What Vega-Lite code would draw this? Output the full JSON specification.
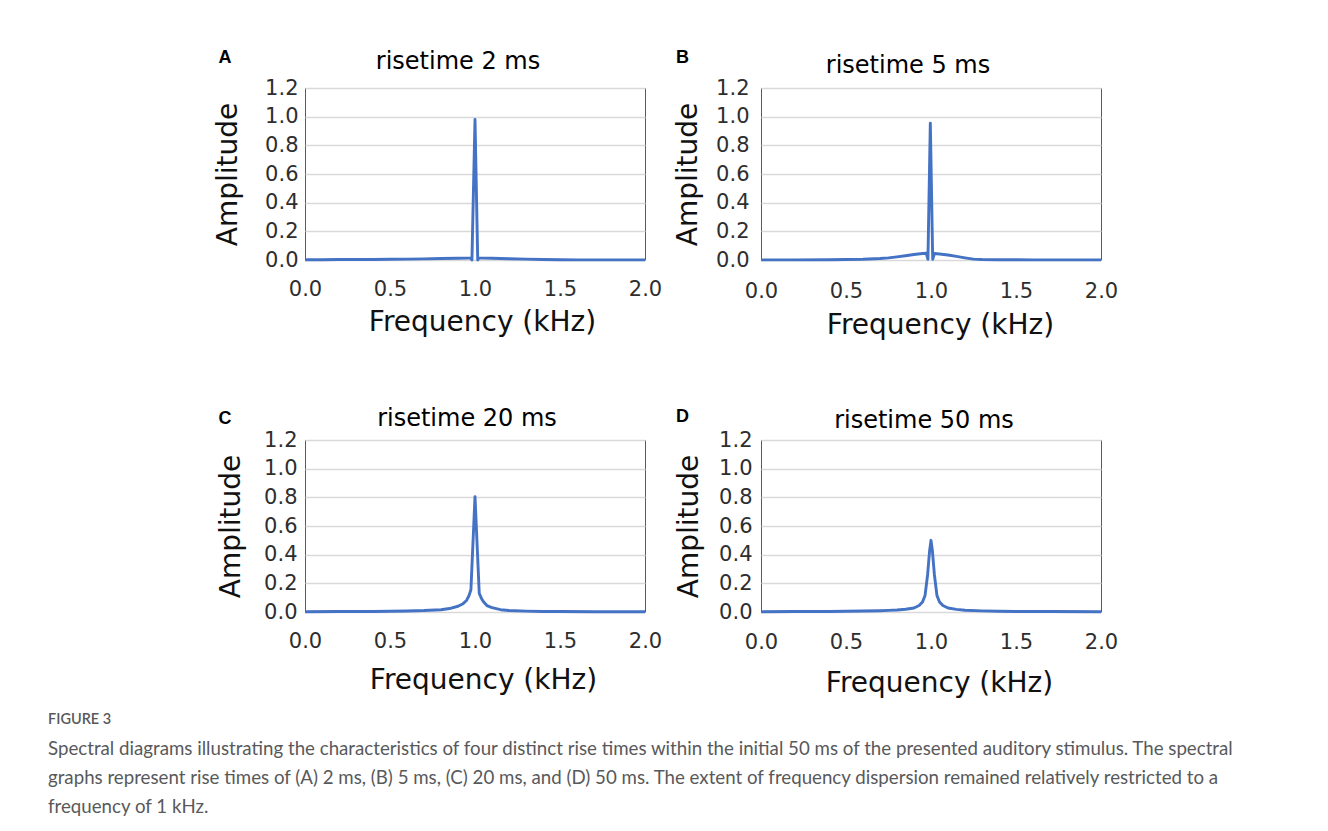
{
  "$schema": "https://vega.github.io/schema/vega-lite/v6.json",
  "autosize": "none",
  "padding": {"left": 305, "top": 88, "right": 1023, "bottom": 743},
  "background": "white",
  "config": {
    "view": {"stroke": "#595959", "strokeWidth": 1},
    "axis": {
      "labelFont": "DejaVu Sans", "labelFontSize": 21, "labelColor": "#2e2e2e", "labelOverlap": false,
      "titleFont": "DejaVu Sans", "titleFontSize": 28, "titleFontWeight": "normal", "titleColor": "#111111",
      "ticks": false, "domain": false
    },
    "axisX": {"grid": false, "labelFlush": false},
    "axisY": {"grid": true, "gridColor": "#d9d9d9", "gridWidth": 1.5}
  },
  "title": {
    "text": "FIGURE 3",
    "subtitle": [
      "Spectral diagrams illustrating the characteristics of four distinct rise times within the initial 50 ms of the presented auditory stimulus. The spectral",
      "graphs represent rise times of (A) 2 ms, (B) 5 ms, (C) 20 ms, and (D) 50 ms. The extent of frequency dispersion remained relatively restricted to a",
      "frequency of 1 kHz."
    ],
    "orient": "bottom", "anchor": "start", "frame": "group", "dx": -257, "offset": 15,
    "font": "Lato", "fontSize": 14.5, "fontWeight": 600, "color": "#58595b",
    "subtitleFont": "Lato", "subtitleFontSize": 18.7, "subtitleColor": "#58595b",
    "subtitleLineHeight": 29, "subtitlePadding": 13
  },
  "data": {"values": [
    {"panel": "A", "freq": 0.0, "amp": 0.002}, {"panel": "A", "freq": 0.1, "amp": 0.002}, {"panel": "A", "freq": 0.2, "amp": 0.003},
    {"panel": "A", "freq": 0.3, "amp": 0.003}, {"panel": "A", "freq": 0.4, "amp": 0.004}, {"panel": "A", "freq": 0.5, "amp": 0.005},
    {"panel": "A", "freq": 0.6, "amp": 0.006}, {"panel": "A", "freq": 0.7, "amp": 0.008}, {"panel": "A", "freq": 0.8, "amp": 0.010},
    {"panel": "A", "freq": 0.9, "amp": 0.012}, {"panel": "A", "freq": 0.96, "amp": 0.013}, {"panel": "A", "freq": 0.975, "amp": 0.013},
    {"panel": "A", "freq": 0.982, "amp": 0.0}, {"panel": "A", "freq": 1.0, "amp": 0.98}, {"panel": "A", "freq": 1.016, "amp": 0.0},
    {"panel": "A", "freq": 1.022, "amp": 0.014}, {"panel": "A", "freq": 1.05, "amp": 0.013}, {"panel": "A", "freq": 1.1, "amp": 0.012},
    {"panel": "A", "freq": 1.2, "amp": 0.009}, {"panel": "A", "freq": 1.3, "amp": 0.006}, {"panel": "A", "freq": 1.4, "amp": 0.004},
    {"panel": "A", "freq": 1.5, "amp": 0.002}, {"panel": "A", "freq": 1.6, "amp": 0.001}, {"panel": "A", "freq": 1.8, "amp": 0.001},
    {"panel": "A", "freq": 2.0, "amp": 0.001},

    {"panel": "B", "freq": 0.0, "amp": 0.001}, {"panel": "B", "freq": 0.2, "amp": 0.001}, {"panel": "B", "freq": 0.4, "amp": 0.002},
    {"panel": "B", "freq": 0.5, "amp": 0.003}, {"panel": "B", "freq": 0.6, "amp": 0.005}, {"panel": "B", "freq": 0.7, "amp": 0.010},
    {"panel": "B", "freq": 0.75, "amp": 0.015}, {"panel": "B", "freq": 0.8, "amp": 0.022}, {"panel": "B", "freq": 0.85, "amp": 0.030},
    {"panel": "B", "freq": 0.9, "amp": 0.038}, {"panel": "B", "freq": 0.95, "amp": 0.045}, {"panel": "B", "freq": 0.972, "amp": 0.047},
    {"panel": "B", "freq": 0.982, "amp": 0.005}, {"panel": "B", "freq": 0.996, "amp": 0.955}, {"panel": "B", "freq": 1.01, "amp": 0.005},
    {"panel": "B", "freq": 1.02, "amp": 0.045}, {"panel": "B", "freq": 1.05, "amp": 0.042}, {"panel": "B", "freq": 1.1, "amp": 0.035},
    {"panel": "B", "freq": 1.15, "amp": 0.025}, {"panel": "B", "freq": 1.2, "amp": 0.015}, {"panel": "B", "freq": 1.25, "amp": 0.006},
    {"panel": "B", "freq": 1.3, "amp": 0.003}, {"panel": "B", "freq": 1.4, "amp": 0.002}, {"panel": "B", "freq": 1.6, "amp": 0.001},
    {"panel": "B", "freq": 2.0, "amp": 0.001},

    {"panel": "C", "freq": 0.0, "amp": 0.002}, {"panel": "C", "freq": 0.2, "amp": 0.003}, {"panel": "C", "freq": 0.4, "amp": 0.004},
    {"panel": "C", "freq": 0.5, "amp": 0.005}, {"panel": "C", "freq": 0.6, "amp": 0.007}, {"panel": "C", "freq": 0.7, "amp": 0.010},
    {"panel": "C", "freq": 0.8, "amp": 0.016}, {"panel": "C", "freq": 0.85, "amp": 0.024}, {"panel": "C", "freq": 0.9, "amp": 0.040},
    {"panel": "C", "freq": 0.93, "amp": 0.058}, {"panel": "C", "freq": 0.95, "amp": 0.08}, {"panel": "C", "freq": 0.965, "amp": 0.115},
    {"panel": "C", "freq": 0.976, "amp": 0.155}, {"panel": "C", "freq": 1.0, "amp": 0.805}, {"panel": "C", "freq": 1.025, "amp": 0.13},
    {"panel": "C", "freq": 1.04, "amp": 0.09}, {"panel": "C", "freq": 1.05, "amp": 0.072}, {"panel": "C", "freq": 1.07, "amp": 0.045},
    {"panel": "C", "freq": 1.1, "amp": 0.030}, {"panel": "C", "freq": 1.15, "amp": 0.016}, {"panel": "C", "freq": 1.2, "amp": 0.010},
    {"panel": "C", "freq": 1.3, "amp": 0.006}, {"panel": "C", "freq": 1.4, "amp": 0.004}, {"panel": "C", "freq": 1.5, "amp": 0.003},
    {"panel": "C", "freq": 1.7, "amp": 0.002}, {"panel": "C", "freq": 2.0, "amp": 0.002},

    {"panel": "D", "freq": 0.0, "amp": 0.002}, {"panel": "D", "freq": 0.2, "amp": 0.003}, {"panel": "D", "freq": 0.4, "amp": 0.004},
    {"panel": "D", "freq": 0.5, "amp": 0.005}, {"panel": "D", "freq": 0.6, "amp": 0.007}, {"panel": "D", "freq": 0.7, "amp": 0.009},
    {"panel": "D", "freq": 0.75, "amp": 0.011}, {"panel": "D", "freq": 0.8, "amp": 0.014}, {"panel": "D", "freq": 0.85, "amp": 0.019},
    {"panel": "D", "freq": 0.9, "amp": 0.028}, {"panel": "D", "freq": 0.93, "amp": 0.045}, {"panel": "D", "freq": 0.95, "amp": 0.07},
    {"panel": "D", "freq": 0.965, "amp": 0.115}, {"panel": "D", "freq": 0.98, "amp": 0.26}, {"panel": "D", "freq": 0.992, "amp": 0.43},
    {"panel": "D", "freq": 1.0, "amp": 0.5}, {"panel": "D", "freq": 1.008, "amp": 0.43}, {"panel": "D", "freq": 1.02, "amp": 0.26},
    {"panel": "D", "freq": 1.035, "amp": 0.115}, {"panel": "D", "freq": 1.05, "amp": 0.07}, {"panel": "D", "freq": 1.07, "amp": 0.045},
    {"panel": "D", "freq": 1.1, "amp": 0.028}, {"panel": "D", "freq": 1.15, "amp": 0.018}, {"panel": "D", "freq": 1.2, "amp": 0.012},
    {"panel": "D", "freq": 1.3, "amp": 0.008}, {"panel": "D", "freq": 1.4, "amp": 0.005}, {"panel": "D", "freq": 1.5, "amp": 0.004},
    {"panel": "D", "freq": 1.7, "amp": 0.003}, {"panel": "D", "freq": 2.0, "amp": 0.002}
  ]},
  "columns": 2,
  "spacing": {"row": 180, "column": 116},
  "bounds": "flush",
  "concat": [
    {
      "width": 340, "height": 172,
      "title": {"text": "risetime 2 ms", "font": "DejaVu Sans", "fontSize": 24, "fontWeight": "normal", "color": "#000000", "frame": "group", "baseline": "alphabetic", "offset": -44, "dx": -17},
      "layer": [
        {
          "transform": [{"filter": "datum.panel === 'A'"}],
          "mark": {"type": "line", "color": "#4472C4", "strokeWidth": 2.9, "strokeJoin": "round"},
          "encoding": {
            "x": {"field": "freq", "type": "quantitative", "scale": {"domain": [0, 2], "nice": false},
                  "axis": {"values": [0, 0.5, 1, 1.5, 2], "format": ".1f", "title": "Frequency (kHz)", "labelPadding": 18, "titlePadding": 9, "titleX": 177}},
            "y": {"field": "amp", "type": "quantitative", "scale": {"domain": [0, 1.2], "nice": false},
                  "axis": {"values": [0, 0.2, 0.4, 0.6, 0.8, 1, 1.2], "format": ".1f", "title": "Amplitude", "labelPadding": 7, "titlePadding": 22, "labelOverlap": false}}
          }
        },
        {
          "data": {"values": [{"letter": "A"}]},
          "mark": {"type": "text", "font": "Liberation Sans", "fontWeight": "bold", "fontSize": 18, "align": "center", "baseline": "middle", "color": "#000000"},
          "encoding": {
            "x": {"datum": -0.47, "type": "quantitative", "scale": {"domain": [0, 2], "nice": false},
                  "axis": {"values": [0, 0.5, 1, 1.5, 2], "format": ".1f", "title": "Frequency (kHz)", "labelPadding": 18, "titlePadding": 9, "titleX": 177}},
            "y": {"datum": 1.41, "type": "quantitative", "scale": {"domain": [0, 1.2], "nice": false},
                  "axis": {"values": [0, 0.2, 0.4, 0.6, 0.8, 1, 1.2], "format": ".1f", "title": "Amplitude", "labelPadding": 7, "titlePadding": 22, "labelOverlap": false}},
            "text": {"field": "letter"}
          }
        }
      ]
    },
    {
      "width": 340, "height": 172,
      "title": {"text": "risetime 5 ms", "font": "DejaVu Sans", "fontSize": 24, "fontWeight": "normal", "color": "#000000", "frame": "group", "baseline": "alphabetic", "offset": -48, "dx": -23},
      "layer": [
        {
          "transform": [{"filter": "datum.panel === 'B'"}],
          "mark": {"type": "line", "color": "#4472C4", "strokeWidth": 2.9, "strokeJoin": "round"},
          "encoding": {
            "x": {"field": "freq", "type": "quantitative", "scale": {"domain": [0, 2], "nice": false},
                  "axis": {"values": [0, 0.5, 1, 1.5, 2], "format": ".1f", "title": "Frequency (kHz)", "labelPadding": 20, "titlePadding": 10, "titleX": 179}},
            "y": {"field": "amp", "type": "quantitative", "scale": {"domain": [0, 1.2], "nice": false},
                  "axis": {"values": [0, 0.2, 0.4, 0.6, 0.8, 1, 1.2], "format": ".1f", "title": "Amplitude", "labelPadding": 12, "titlePadding": 13, "labelOverlap": false}}
          }
        },
        {
          "data": {"values": [{"letter": "B"}]},
          "mark": {"type": "text", "font": "Liberation Sans", "fontWeight": "bold", "fontSize": 18, "align": "center", "baseline": "middle", "color": "#000000"},
          "encoding": {
            "x": {"datum": -0.462, "type": "quantitative", "scale": {"domain": [0, 2], "nice": false},
                  "axis": {"values": [0, 0.5, 1, 1.5, 2], "format": ".1f", "title": "Frequency (kHz)", "labelPadding": 20, "titlePadding": 10, "titleX": 179}},
            "y": {"datum": 1.41, "type": "quantitative", "scale": {"domain": [0, 1.2], "nice": false},
                  "axis": {"values": [0, 0.2, 0.4, 0.6, 0.8, 1, 1.2], "format": ".1f", "title": "Amplitude", "labelPadding": 12, "titlePadding": 13, "labelOverlap": false}},
            "text": {"field": "letter"}
          }
        }
      ]
    },
    {
      "width": 340, "height": 172,
      "title": {"text": "risetime 20 ms", "font": "DejaVu Sans", "fontSize": 24, "fontWeight": "normal", "color": "#000000", "frame": "group", "baseline": "alphabetic", "offset": -40, "dx": -8},
      "layer": [
        {
          "transform": [{"filter": "datum.panel === 'C'"}],
          "mark": {"type": "line", "color": "#4472C4", "strokeWidth": 2.9, "strokeJoin": "round"},
          "encoding": {
            "x": {"field": "freq", "type": "quantitative", "scale": {"domain": [0, 2], "nice": false},
                  "axis": {"values": [0, 0.5, 1, 1.5, 2], "format": ".1f", "title": "Frequency (kHz)", "labelPadding": 18, "titlePadding": 15, "titleX": 178}},
            "y": {"field": "amp", "type": "quantitative", "scale": {"domain": [0, 1.2], "nice": false},
                  "axis": {"values": [0, 0.2, 0.4, 0.6, 0.8, 1, 1.2], "format": ".1f", "title": "Amplitude", "labelPadding": 8, "titlePadding": 18, "labelOverlap": false}}
          }
        },
        {
          "data": {"values": [{"letter": "C"}]},
          "mark": {"type": "text", "font": "Liberation Sans", "fontWeight": "bold", "fontSize": 18, "align": "center", "baseline": "middle", "color": "#000000"},
          "encoding": {
            "x": {"datum": -0.47, "type": "quantitative", "scale": {"domain": [0, 2], "nice": false},
                  "axis": {"values": [0, 0.5, 1, 1.5, 2], "format": ".1f", "title": "Frequency (kHz)", "labelPadding": 18, "titlePadding": 15, "titleX": 178}},
            "y": {"datum": 1.347, "type": "quantitative", "scale": {"domain": [0, 1.2], "nice": false},
                  "axis": {"values": [0, 0.2, 0.4, 0.6, 0.8, 1, 1.2], "format": ".1f", "title": "Amplitude", "labelPadding": 8, "titlePadding": 18, "labelOverlap": false}},
            "text": {"field": "letter"}
          }
        }
      ]
    },
    {
      "width": 340, "height": 172,
      "title": {"text": "risetime 50 ms", "font": "DejaVu Sans", "fontSize": 24, "fontWeight": "normal", "color": "#000000", "frame": "group", "baseline": "alphabetic", "offset": -44, "dx": -7},
      "layer": [
        {
          "transform": [{"filter": "datum.panel === 'D'"}],
          "mark": {"type": "line", "color": "#4472C4", "strokeWidth": 2.9, "strokeJoin": "round"},
          "encoding": {
            "x": {"field": "freq", "type": "quantitative", "scale": {"domain": [0, 2], "nice": false},
                  "axis": {"values": [0, 0.5, 1, 1.5, 2], "format": ".1f", "title": "Frequency (kHz)", "labelPadding": 19, "titlePadding": 17, "titleX": 178}},
            "y": {"field": "amp", "type": "quantitative", "scale": {"domain": [0, 1.2], "nice": false},
                  "axis": {"values": [0, 0.2, 0.4, 0.6, 0.8, 1, 1.2], "format": ".1f", "title": "Amplitude", "labelPadding": 9, "titlePadding": 15, "labelOverlap": false}}
          }
        },
        {
          "data": {"values": [{"letter": "D"}]},
          "mark": {"type": "text", "font": "Liberation Sans", "fontWeight": "bold", "fontSize": 18, "align": "center", "baseline": "middle", "color": "#000000"},
          "encoding": {
            "x": {"datum": -0.462, "type": "quantitative", "scale": {"domain": [0, 2], "nice": false},
                  "axis": {"values": [0, 0.5, 1, 1.5, 2], "format": ".1f", "title": "Frequency (kHz)", "labelPadding": 19, "titlePadding": 17, "titleX": 178}},
            "y": {"datum": 1.358, "type": "quantitative", "scale": {"domain": [0, 1.2], "nice": false},
                  "axis": {"values": [0, 0.2, 0.4, 0.6, 0.8, 1, 1.2], "format": ".1f", "title": "Amplitude", "labelPadding": 9, "titlePadding": 15, "labelOverlap": false}},
            "text": {"field": "letter"}
          }
        }
      ]
    }
  ]
}
